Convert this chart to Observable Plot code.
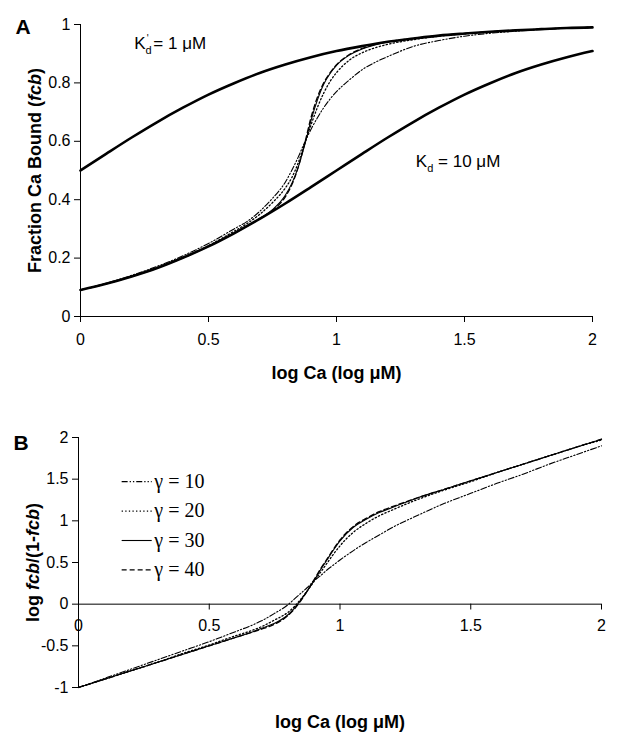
<!DOCTYPE html>
<html><head><meta charset="utf-8">
<script src="https://cdn.jsdelivr.net/npm/d3@7"></script>
<script src="https://cdn.jsdelivr.net/npm/@observablehq/plot@0.6"></script>
<style>
body{margin:0;background:#fff;}
#chart{width:618px;height:745px;overflow:hidden;background:#fff;}
#chart svg{display:block;}
</style></head><body><div id="chart"></div>
<script>
// ---------- data ----------
const xTicks = [0, 0.5, 1, 1.5, 2];
const yTicksA = [0, 0.2, 0.4, 0.6, 0.8, 1];
const yTicksB = [-1, -0.5, 0, 0.5, 1, 1.5, 2];
const gammas = [10, 20, 30, 40];

// Kd curves (panel A)
const logCa = [0,0.1,0.2,0.3,0.4,0.5,0.6,0.7,0.8,0.9,1.0,1.1,1.2,1.3,1.4,1.5,1.6,1.7,1.8,1.9,2.0];
const fcbKd1  = [0.500,0.557,0.613,0.666,0.715,0.760,0.799,0.834,0.863,0.888,0.909,0.926,0.941,0.952,0.962,0.969,0.975,0.980,0.984,0.988,0.990];
const fcbKd10 = [0.091,0.112,0.137,0.166,0.201,0.240,0.285,0.334,0.387,0.443,0.500,0.557,0.613,0.666,0.715,0.760,0.799,0.834,0.863,0.888,0.909];

// cooperative curves
const logCaCoop = [0,0.1,0.2,0.3,0.4,0.5,0.6,0.65,0.7,0.75,0.8,0.825,0.85,0.875,0.9,0.925,0.95,0.975,1.0,1.05,1.1,1.15,1.2,1.3,1.4,1.5,1.6,1.7,1.8,1.9,2.0];
const fcbG10 = [0.091,0.114,0.141,0.172,0.208,0.250,0.300,0.325,0.360,0.405,0.460,0.500,0.545,0.595,0.640,0.680,0.715,0.745,0.770,0.810,0.845,0.870,0.890,0.925,0.945,0.960,0.970,0.977,0.983,0.987,0.990];
const fcbG20 = [0.091,0.112,0.138,0.168,0.203,0.243,0.292,0.318,0.350,0.390,0.440,0.475,0.525,0.590,0.655,0.715,0.765,0.805,0.835,0.878,0.903,0.920,0.932,0.948,0.960,0.968,0.975,0.980,0.984,0.988,0.990];
const fcbG30 = [0.091,0.112,0.137,0.166,0.201,0.241,0.286,0.310,0.336,0.366,0.415,0.455,0.510,0.585,0.670,0.740,0.795,0.832,0.860,0.895,0.916,0.930,0.940,0.952,0.962,0.969,0.975,0.980,0.984,0.988,0.990];
const fcbG40 = [0.091,0.112,0.137,0.166,0.201,0.240,0.285,0.309,0.335,0.363,0.410,0.450,0.510,0.590,0.680,0.750,0.800,0.835,0.862,0.897,0.918,0.932,0.941,0.952,0.962,0.969,0.975,0.980,0.984,0.988,0.990];

const logRatioG10 = [-1.00,-0.89,-0.78,-0.67,-0.56,-0.45,-0.33,-0.27,-0.20,-0.11,-0.01,0.06,0.13,0.20,0.28,0.34,0.41,0.47,0.53,0.64,0.74,0.83,0.92,1.07,1.21,1.33,1.45,1.56,1.68,1.79,1.90];
const logRatioG20 = [-1.00,-0.90,-0.80,-0.70,-0.59,-0.49,-0.38,-0.33,-0.27,-0.19,-0.10,-0.03,0.06,0.16,0.27,0.38,0.49,0.60,0.70,0.86,0.97,1.06,1.13,1.26,1.37,1.47,1.58,1.68,1.78,1.88,1.97];
const logRatioG30 = [-1.00,-0.90,-0.80,-0.70,-0.60,-0.50,-0.40,-0.35,-0.29,-0.23,-0.13,-0.05,0.05,0.16,0.28,0.41,0.53,0.65,0.76,0.92,1.02,1.10,1.16,1.28,1.38,1.48,1.58,1.68,1.78,1.88,1.98];
const logRatioG40 = [-1.00,-0.90,-0.80,-0.70,-0.60,-0.50,-0.40,-0.35,-0.30,-0.24,-0.14,-0.06,0.04,0.16,0.29,0.42,0.54,0.66,0.77,0.93,1.03,1.11,1.17,1.28,1.38,1.48,1.58,1.68,1.78,1.88,1.98];

// ---------- helpers ----------
const font = "'Liberation Sans', Arial, Helvetica, sans-serif";
const serif = "'Liberation Serif', 'Times New Roman', serif";
const rows = (xs, ys) => xs.map((x, i) => ({x, y: ys[i]}));
const fcbSeries = [fcbG10, fcbG20, fcbG30, fcbG40];
const ratioSeries = [logRatioG10, logRatioG20, logRatioG30, logRatioG40];
const dashes = ["6,2,1.3,2,1.3,2", "1.3,2.3", null, "5,3"];
const widths = [1.1, 1.3, 1.1, 1.3];
const fmt = d => String(d);

function coopLines(series) {
  return series.map((ys, j) => Plot.line(rows(logCaCoop, ys), {
    x: "x", y: "y", stroke: "#000", strokeWidth: widths[j],
    strokeDasharray: dashes[j] || undefined, curve: "monotone-x"
  }));
}

// ---------- panel A ----------
const A = Plot.plot({
  width: 618, height: 395,
  marginLeft: 80, marginRight: 26, marginTop: 24, marginBottom: 79,
  x: {domain: [0, 2]},
  y: {domain: [0, 1]},
  style: {fontFamily: font, fontSize: "16px", color: "#000", background: "#fff", overflow: "visible"},
  marks: [
    Plot.axisX({ticks: xTicks, tickFormat: fmt, tickSize: 6, tickPadding: 11, label: null, fontSize: 16}),
    Plot.axisY({ticks: yTicksA, tickFormat: fmt, tickSize: 6, tickPadding: 4, label: null, fontSize: 16}),
    Plot.ruleX([0], {stroke: "#000"}),
    Plot.ruleY([0], {stroke: "#000"}),
    ...coopLines(fcbSeries),
    Plot.line(rows(logCa, fcbKd1), {x: "x", y: "y", stroke: "#000", strokeWidth: 2.6, curve: "monotone-x"}),
    Plot.line(rows(logCa, fcbKd10), {x: "x", y: "y", stroke: "#000", strokeWidth: 2.6, curve: "monotone-x"}),
    Plot.text(["Kp = 1 μM"], {x: 0.21, y: 0.935, text: d => d, textAnchor: "start", fontSize: 17}),
    Plot.text(["Kd = 10 μM"], {x: 1.31, y: 0.53, text: d => d, textAnchor: "start", fontSize: 17}),
    Plot.text(["Fraction Ca Bound (fcb)"], {frameAnchor: "left", dx: -45, rotate: -90, textAnchor: "middle", text: d => d, fontWeight: "bold", fontSize: 18}),
    Plot.text(["log Ca (log μM)"], {frameAnchor: "bottom", dy: 62, text: d => d, fontWeight: "bold", fontSize: 18}),
    Plot.text(["A"], {frameAnchor: "top-left", dx: -65, dy: -5, text: d => d, fontWeight: "bold", fontSize: 21})
  ]
});

// ---------- panel B ----------
const legendY = i => 1.47 - 0.353 * i;
const B = Plot.plot({
  width: 618, height: 350,
  marginLeft: 78, marginRight: 17, marginTop: 42, marginBottom: 58,
  x: {domain: [0, 2], axis: null},
  y: {domain: [-1, 2]},
  style: {fontFamily: font, fontSize: "16px", color: "#000", background: "#fff", overflow: "visible"},
  marks: [
    Plot.axisY({ticks: yTicksB, tickFormat: fmt, tickSize: 6, tickPadding: 4, label: null, fontSize: 16}),
    Plot.ruleX([0], {y1: -1, y2: 2, stroke: "#000"}),
    Plot.ruleY([0], {x1: 0, x2: 2, stroke: "#000"}),
    Plot.ruleX(xTicks, {x: d => d, y1: 0, y2: -0.07, stroke: "#000"}),
    Plot.text(xTicks, {x: d => d, y: 0, dy: 22, text: fmt, fontSize: 16}),
    ...coopLines(ratioSeries),
    ...gammas.map((g, j) => Plot.link([g], {
      x1: 0.165, x2: 0.28, y1: legendY(j), y2: legendY(j), stroke: "#000",
      strokeWidth: widths[j], strokeDasharray: dashes[j] || undefined
    })),
    Plot.text(gammas, {x: 0.29, y: (d, i) => legendY(i), text: d => `γ = ${d}`, textAnchor: "start", fontFamily: serif, fontSize: 20}),
    Plot.text(["log fcb/(1-fcb)"], {frameAnchor: "left", dx: -45, rotate: -90, textAnchor: "middle", text: d => d, fontWeight: "bold", fontSize: 18}),
    Plot.text(["log Ca (log μM)"], {frameAnchor: "bottom", dy: 40, text: d => d, fontWeight: "bold", fontSize: 18}),
    Plot.text(["B"], {frameAnchor: "top-left", dx: -65, dy: -2, text: d => d, fontWeight: "bold", fontSize: 21})
  ]
});

// ---------- rich text (italics / subscripts) ----------
function rebuild(svg, content, parts) {
  d3.select(svg).selectAll("text").filter(function () { return this.textContent === content; })
    .each(function () {
      const t = d3.select(this);
      t.text(null);
      parts.forEach(p => {
        const s = t.append("tspan").text(p.t);
        if (p.i) s.attr("font-style", "italic");
        if (p.fs) s.attr("font-size", p.fs);
        if (p.dy) s.attr("dy", p.dy);
        if (p.dx) s.attr("dx", p.dx);
      });
    });
}
rebuild(A, "Fraction Ca Bound (fcb)", [{t: "Fraction Ca Bound ("}, {t: "fcb", i: true}, {t: ")"}]);
rebuild(A, "Kp = 1 μM", [{t: "K"}, {t: "d", fs: 11, dy: 5}, {t: "'", fs: 10, dx: -5, dy: -12}, {t: " = 1 μM", dy: 7}]);
rebuild(A, "Kd = 10 μM", [{t: "K"}, {t: "d", fs: 11, dy: 5}, {t: " = 10 μM", dy: -5}]);
rebuild(B, "log fcb/(1-fcb)", [{t: "log "}, {t: "fcb", i: true}, {t: "/(1-"}, {t: "fcb", i: true}, {t: ")"}]);

const chart = document.getElementById("chart");
chart.append(A, B);
</script>
</body></html>
